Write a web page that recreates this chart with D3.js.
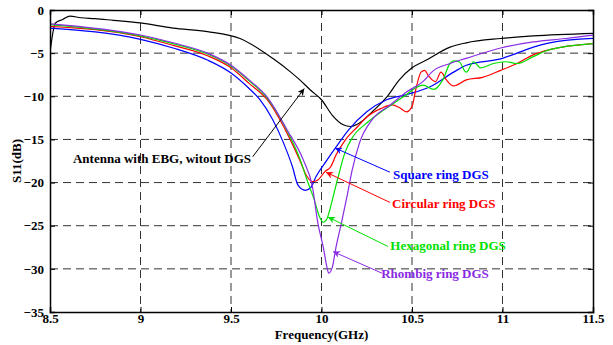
<!DOCTYPE html>
<html>
<head>
<meta charset="utf-8">
<script src="https://cdn.jsdelivr.net/npm/d3@7"></script>
<style>
  body { margin: 0; background: #fff; }
  svg text { font-family: "Liberation Serif", "Times New Roman", serif; font-weight: bold; }
</style>
</head>
<body>
<svg id="chart" width="613" height="345"></svg>
<script>
// x ticks / y ticks
const xTicks = [8.5, 9, 9.5, 10, 10.5, 11, 11.5];
const yTicks = [0, -5, -10, -15, -20, -25, -30, -35];

// Antenna with EBG, without DGS
const freqBlack = [8.5, 8.53, 8.57, 8.61, 8.67, 8.75, 8.85, 9.0, 9.18, 9.37, 9.55, 9.73, 9.83, 9.88, 9.94, 10.0, 10.06, 10.12, 10.16, 10.21, 10.28, 10.36, 10.43, 10.5, 10.58, 10.71, 10.8, 10.99, 11.17, 11.5];
const s11Black = [-4.9, -1.5, -1.1, -0.7, -0.9, -1.0, -1.2, -1.5, -2.1, -2.5, -3.3, -5.6, -7.2, -8.1, -9.3, -10.4, -12.2, -13.3, -13.5, -13.1, -11.8, -10.1, -8.1, -6.7, -5.8, -4.3, -3.8, -3.3, -3.0, -2.7];

// Square ring DGS
const freqSquare = [8.5, 9.0, 9.18, 9.37, 9.5, 9.59, 9.66, 9.73, 9.79, 9.84, 9.87, 9.91, 9.94, 9.97, 10.03, 10.08, 10.15, 10.25, 10.36, 10.47, 10.6, 10.73, 10.8, 11.0, 11.08, 11.17, 11.26, 11.5];
const s11Square = [-2.1, -3.4, -4.4, -5.8, -7.3, -8.9, -10.4, -12.7, -15.4, -18.2, -20.3, -20.9, -20.6, -19.3, -17.4, -15.9, -13.9, -11.8, -10.4, -9.8, -8.9, -7.2, -6.4, -5.6, -5.0, -4.3, -3.8, -3.3];

// Circular ring DGS
const freqCircular = [8.5, 9.0, 9.18, 9.37, 9.5, 9.6, 9.7, 9.81, 9.88, 9.92, 9.95, 9.98, 10.02, 10.05, 10.08, 10.13, 10.2, 10.25, 10.33, 10.39, 10.43, 10.47, 10.5, 10.52, 10.55, 10.57, 10.59, 10.63, 10.66, 10.69, 10.73, 10.8, 10.89, 10.99, 11.08, 11.17, 11.26, 11.5];
const s11Circular = [-1.9, -3.1, -4.1, -5.3, -6.7, -8.5, -10.4, -14.3, -17.4, -19.3, -19.9, -19.7, -18.7, -18.2, -16.8, -15.1, -13.5, -12.4, -11.4, -11.0, -11.3, -11.8, -11.2, -9.3, -7.2, -7.0, -7.6, -8.3, -7.2, -8.1, -8.8, -8.1, -7.8, -7.0, -6.2, -5.2, -4.6, -3.9];

// Hexagonal ring DGS
const freqHexagonal = [8.5, 9.0, 9.18, 9.37, 9.5, 9.6, 9.7, 9.81, 9.88, 9.92, 9.96, 9.99, 10.01, 10.03, 10.06, 10.09, 10.13, 10.17, 10.25, 10.33, 10.4, 10.47, 10.52, 10.56, 10.62, 10.67, 10.71, 10.73, 10.76, 10.8, 10.84, 10.88, 10.95, 11.02, 11.08, 11.17, 11.26, 11.5];
const s11Hexagonal = [-1.7, -3.0, -3.9, -5.1, -6.5, -8.2, -10.2, -14.0, -17.2, -19.7, -22.0, -24.0, -24.6, -24.2, -22.0, -19.5, -16.5, -14.8, -13.1, -11.8, -10.8, -9.8, -9.0, -8.7, -9.2, -8.1, -6.2, -5.9, -6.0, -7.2, -6.0, -6.7, -6.2, -6.0, -6.2, -5.4, -4.6, -3.9];

// Rhombig ring DGS
const freqRhombic = [8.5, 9.0, 9.18, 9.37, 9.5, 9.6, 9.7, 9.81, 9.9, 9.95, 9.98, 10.01, 10.03, 10.04, 10.06, 10.08, 10.11, 10.14, 10.17, 10.21, 10.28, 10.38, 10.47, 10.56, 10.62, 10.71, 10.8, 10.99, 11.17, 11.35, 11.5];
const s11Rhombic = [-1.6, -2.9, -3.8, -5.0, -6.4, -8.1, -10.1, -13.9, -17.4, -20.5, -24.7, -27.5, -29.8, -30.5, -29.8, -27.5, -24.7, -21.7, -18.5, -15.4, -12.7, -11.0, -9.5, -8.3, -7.0, -6.2, -5.6, -4.4, -3.7, -3.3, -2.9];

const series = [
  { name: 'Antenna with EBG, witout DGS', color: '#000000', f: freqBlack, v: s11Black },
  { name: 'Square ring DGS', color: '#0000ff', f: freqSquare, v: s11Square },
  { name: 'Circular ring DGS', color: '#ff0000', f: freqCircular, v: s11Circular },
  { name: 'Hexagonal ring DGS', color: '#00e000', f: freqHexagonal, v: s11Hexagonal },
  { name: 'Rhombig ring DGS', color: '#8a2be2', f: freqRhombic, v: s11Rhombic }
];

// label anchor (data coords) and arrow from -> to (data coords)
const labels = [
  { s: 0, tx: 8.627, ty: -17.7, ax: [9.62, -17.0], bx: [9.905, -9.1] },
  { s: 1, tx: 10.395, ty: -19.6, ax: [10.378, -18.8], bx: [10.075, -16.0] },
  { s: 2, tx: 10.39, ty: -23.0, ax: [10.378, -22.3], bx: [10.025, -18.8] },
  { s: 3, tx: 10.38, ty: -27.8, ax: [10.367, -27.4], bx: [10.036, -24.0] },
  { s: 4, tx: 10.33, ty: -31.1, ax: [10.334, -30.5], bx: [10.064, -28.0] }
];

const svg = d3.select('#chart');
const m = { left: 50, right: 593, top: 10, bottom: 312 };

const x = d3.scaleLinear().domain([8.5, 11.5]).range([m.left, m.right]);
const y = d3.scaleLinear().domain([-35, 0]).range([m.bottom, m.top]);

// grid
const grid = svg.append('g');
grid.selectAll('.gx').data(xTicks.slice(1, -1)).join('line')
  .attr('x1', d => x(d)).attr('x2', d => x(d))
  .attr('y1', m.top).attr('y2', m.bottom)
  .attr('stroke', '#333').attr('stroke-width', 1).attr('stroke-dasharray', '8,5');
grid.selectAll('.gy').data(yTicks.slice(1, -1)).join('line')
  .attr('y1', d => y(d)).attr('y2', d => y(d))
  .attr('x1', m.left).attr('x2', m.right)
  .attr('stroke', '#333').attr('stroke-width', 1).attr('stroke-dasharray', '8,5');

// curves
const line = d3.line().curve(d3.curveMonotoneX);
const clip = svg.append('defs').append('clipPath').attr('id', 'clip')
  .append('rect').attr('x', m.left).attr('y', m.top)
  .attr('width', m.right - m.left).attr('height', m.bottom - m.top);

svg.append('g').attr('clip-path', 'url(#clip)')
  .selectAll('path').data(series).join('path')
  .attr('d', s => line(s.f.map((f, i) => [x(f), y(s.v[i])])))
  .attr('fill', 'none')
  .attr('stroke', s => s.color)
  .attr('stroke-width', 1.2);

// arrow markers
const defs = svg.select('defs');
series.forEach((s, i) => {
  defs.append('marker').attr('id', 'arr' + i)
    .attr('viewBox', '0 0 10 10').attr('refX', 10).attr('refY', 5)
    .attr('markerWidth', 7).attr('markerHeight', 7)
    .attr('markerUnits', 'userSpaceOnUse')
    .attr('orient', 'auto')
    .append('path').attr('d', 'M0,0 L10,5 L0,10 L3,5 Z').attr('fill', s.color);
});

const ann = svg.append('g');
ann.selectAll('line').data(labels).join('line')
  .attr('x1', d => x(d.ax[0])).attr('y1', d => y(d.ax[1]))
  .attr('x2', d => x(d.bx[0])).attr('y2', d => y(d.bx[1]))
  .attr('stroke', d => series[d.s].color).attr('stroke-width', 1)
  .attr('marker-end', d => `url(#arr${d.s})`);
ann.selectAll('text').data(labels).join('text')
  .attr('x', d => x(d.tx)).attr('y', d => y(d.ty))
  .attr('fill', d => series[d.s].color)
  .style('font-size', '13px')
  .text(d => series[d.s].name);

// axes box + inward ticks
const axes = svg.append('g');
axes.append('g').attr('transform', `translate(0,${m.bottom})`)
  .call(d3.axisBottom(x).tickValues(xTicks).tickSize(-5).tickPadding(2).tickFormat(d3.format('')));
axes.append('g').attr('transform', `translate(0,${m.top})`)
  .call(d3.axisTop(x).tickValues(xTicks).tickSize(-5).tickFormat(''));
axes.append('g').attr('transform', `translate(${m.left},0)`)
  .call(d3.axisLeft(y).tickValues(yTicks).tickSize(-5).tickPadding(6).tickFormat(d3.format('')));
axes.append('g').attr('transform', `translate(${m.right},0)`)
  .call(d3.axisRight(y).tickValues(yTicks).tickSize(-5).tickFormat(''));
axes.selectAll('.domain').attr('stroke', '#000').attr('stroke-width', 1.5);
axes.selectAll('.tick line').attr('stroke', '#000');
axes.selectAll('.tick text')
  .attr('fill', '#000')
  .style('font-family', '"Liberation Serif", serif')
  .style('font-weight', 'bold')
  .style('font-size', '13px');

svg.append('text')
  .attr('x', (m.left + m.right) / 2).attr('y', 339)
  .attr('text-anchor', 'middle').style('font-size', '13px')
  .text('Frequency(GHz)');
svg.append('text')
  .attr('transform', `translate(21,${(m.top + m.bottom) / 2}) rotate(-90)`)
  .attr('text-anchor', 'middle').style('font-size', '13px')
  .text('S11(dB)');
</script>
</body>
</html>
